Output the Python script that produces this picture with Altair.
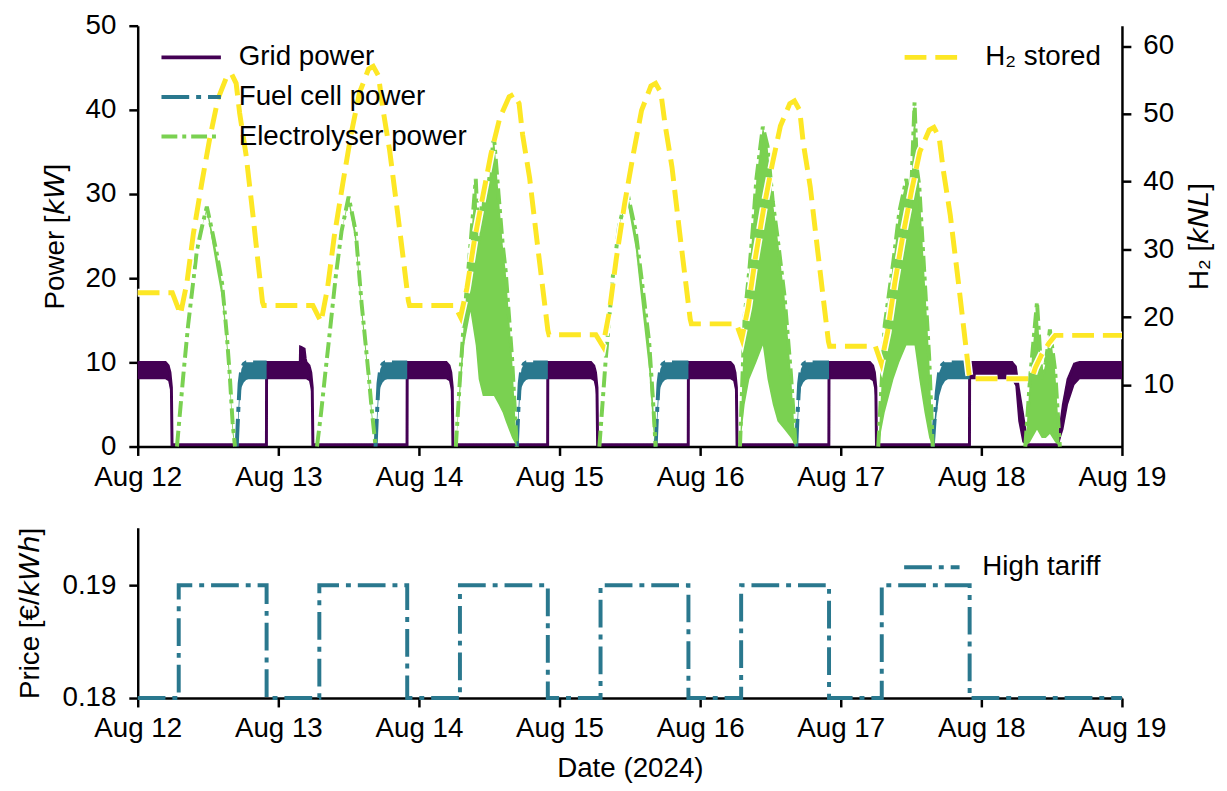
import altair as alt
import pandas as pd

FONT = "Liberation Sans"
FS = 28
BASE = pd.Timestamp("2024-08-12 00:00:00")

# ---------------- data: time in hours after 2024-08-12 00:00 ----------------
# Grid power: band (lo..hi) of the noisy signal
grid_t = [0, 4.7, 5.2, 5.5, 5.75, 5.86, 21.97, 22.0, 27.75, 27.8, 28.4, 28.6, 28.74,
          29.24, 29.54, 29.79, 29.9, 45.97, 46.0, 52.64, 53.14, 53.44, 53.69, 53.8,
          69.97, 70.0, 77.34, 77.84, 78.14, 78.39, 78.5, 93.97, 94.0, 101.14, 101.64,
          101.94, 102.19, 102.3, 117.97, 118.0, 124.94, 125.44, 125.74, 125.99, 126.1,
          141.97, 142.0, 149.2, 149.8, 150.3, 151.0, 151.8, 157.1, 158.0, 158.8, 159.9,
          160.8, 168.0]
grid_hi = [10, 10, 9.6, 8.8, 7.0, 0.2, 0.2, 10, 10, 11.8, 11.6, 10.4, 10,
           9.6, 8.8, 7.0, 0.2, 0.2, 10, 10, 9.6, 8.8, 7.0, 0.2,
           0.2, 10, 10, 9.6, 8.8, 7.0, 0.2, 0.2, 10, 10, 9.6,
           8.8, 7.0, 0.2, 0.2, 10, 10, 9.6, 8.8, 7.0, 0.2,
           0.2, 10, 10, 9.5, 7.0, 4.0, 0.2, 0.2, 5.0, 8.0, 9.8,
           10, 10]
grid_lo = [8, 8, 7.8, 6.8, 5.0, 0.1, 0.1, 8, 8, 8, 8, 8, 8,
           7.8, 6.8, 5.0, 0.1, 0.1, 8, 8, 7.8, 6.8, 5.0, 0.1,
           0.1, 8, 8, 7.8, 6.8, 5.0, 0.1, 0.1, 8, 8, 7.8,
           6.8, 5.0, 0.1, 0.1, 8, 8, 7.8, 6.8, 5.0, 0.1,
           0.1, 8, 8, 7.2, 3.0, 0.5, 0.1, 0.1, 2.0, 5.0, 7.3,
           8, 8]

# Fuel cell power: one segment per weekday evening
fuel_day = ["12"] * 8 + ["13"] * 8 + ["14"] * 8 + ["15"] * 8 + ["16"] * 8 + ["17"] * 8
fuel_t = [16.9, 17.15, 17.4, 17.7, 18.1, 18.5, 18.9, 22.0,
          40.6, 40.85, 41.1, 41.4, 41.8, 42.2, 42.6, 46.0,
          64.7, 64.95, 65.2, 65.5, 65.9, 66.3, 66.7, 70.0,
          88.4, 88.65, 88.9, 89.2, 89.6, 90.0, 90.4, 94.0,
          112.4, 112.65, 112.9, 113.2, 113.6, 114.0, 114.4, 118.0,
          135.7, 136.0, 136.4, 136.8, 137.3, 137.8, 138.3, 142.0]
fuel_hi = [0, 4.0, 7.5, 9.2, 9.8, 10, 10, 10,
           0, 4.0, 7.5, 9.2, 9.8, 10, 10, 10,
           0, 4.0, 7.5, 9.2, 9.8, 10, 10, 10,
           0, 4.0, 7.5, 9.2, 9.8, 10, 10, 10,
           0, 4.0, 7.5, 9.2, 9.8, 10, 10, 10,
           0, 3.0, 6.5, 8.8, 9.7, 10, 10, 10]
fuel_lo = [0, 2.5, 5.5, 7.0, 7.6, 7.9, 8, 8,
           0, 2.5, 5.5, 7.0, 7.6, 7.9, 8, 8,
           0, 2.5, 5.5, 7.0, 7.6, 7.9, 8, 8,
           0, 2.5, 5.5, 7.0, 7.6, 7.9, 8, 8,
           0, 2.5, 5.5, 7.0, 7.6, 7.9, 8, 8,
           0, 1.5, 4.0, 6.0, 7.2, 7.8, 8, 8]

# Electrolyser power: one segment per day (upper / lower envelope)
elec_day = ["12"] * 14 + ["13"] * 12 + ["14"] * 14 + ["15"] * 10 + ["16"] * 12 + ["17"] * 12 + ["18"] * 8
elec_t = [6.7, 7.3, 7.8, 8.6, 10.1, 11.0, 11.8, 12.7, 13.5, 14.4, 15.2, 15.7, 16.2, 16.6,
          30.6, 31.3, 32.0, 32.6, 33.8, 34.8, 36.0, 37.2, 38.2, 39.4, 40.0, 40.6,
          54.3, 55.0, 55.7, 56.8, 57.7, 58.2, 58.9, 59.7, 60.8, 61.6, 62.3, 62.8, 63.9, 64.7,
          78.8, 79.9, 81.1, 82.2, 83.6, 85.0, 86.1, 87.3, 88.0, 88.4,
          102.8, 103.6, 104.4, 105.0, 105.6, 106.7, 107.5, 108.4, 109.2, 110.4, 111.5, 112.3,
          126.4, 127.5, 129.0, 130.0, 131.2, 131.9, 132.6, 133.0, 133.4, 134.3, 135.1, 135.7,
          151.5, 152.3, 153.5, 154.3, 155.0, 155.7, 156.6, 157.4]
elec_hi = [0, 4.7, 8.6, 14.4, 23.3, 26.2, 28.5, 25.6, 22.9, 19.4, 13.3, 8.6, 2.8, 0,
           0, 4.0, 8.6, 12.4, 20.2, 25.6, 29.7, 25.6, 17.1, 8.6, 4.0, 0,
           0, 8.0, 15.1, 24.0, 31.8, 24.0, 30.3, 29.9, 36.9, 29.9, 24.0, 20.9, 10.5, 0,
           0, 10.5, 20.2, 26.4, 30.1, 25.6, 19.4, 12.4, 5.0, 0,
           0, 15.5, 21.0, 26.0, 31.8, 38.0, 35.7, 29.1, 24.9, 17.9, 8.6, 0,
           0, 14.4, 22.1, 27.9, 31.8, 28.0, 40.9, 33.0, 31.0, 20.2, 10.5, 0,
           0, 8.0, 17.2, 8.0, 10.0, 13.9, 9.0, 0]
elec_lo = [0, 4.7, 8.6, 14.4, 23.3, 26.2, 28.0, 24.3, 21.0, 17.6, 11.8, 7.2, 1.5, 0,
           0, 4.0, 8.6, 12.4, 20.2, 25.6, 29.0, 24.2, 15.8, 7.5, 3.0, 0,
           0, 6.0, 12.0, 16.0, 12.0, 8.0, 6.0, 6.0, 6.0, 5.0, 4.0, 3.0, 1.0, 0,
           0, 10.5, 20.2, 26.4, 29.0, 23.5, 16.5, 9.0, 2.0, 0,
           0, 5.0, 8.0, 9.0, 10.0, 12.0, 8.0, 5.0, 3.0, 2.0, 1.0, 0,
           0, 4.0, 8.0, 10.0, 12.0, 12.0, 12.0, 10.0, 8.0, 4.0, 1.0, 0,
           0, 0.5, 2.0, 1.0, 1.0, 1.5, 0.5, 0]

# Hydrogen stored (right axis, kNL)
h2_t = [0, 5.9, 7.3, 8.4, 9.5, 10.9, 12.3, 13.7, 15.2, 16.0, 16.8, 17.4, 18.5, 19.7, 20.5, 21.3, 21.5,
        29.9, 31.3, 32.4, 33.55, 35.0, 36.4, 37.85, 39.4, 40.2, 41.1, 41.8, 43.0, 44.4, 45.3, 46.2, 46.4,
        54.1, 55.1, 56.2, 57.4, 58.9, 60.3, 61.8, 63.4, 64.2, 65.1, 65.7, 66.9, 68.2, 69.1, 70.0, 70.2,
        78.2, 79.4, 80.5, 81.7, 83.1, 84.6, 86.0, 87.6, 88.4, 89.3, 90.0, 91.2, 92.5, 93.4, 94.3, 94.5,
        102.2, 103.1, 104.2, 105.4, 106.8, 108.3, 109.7, 111.3, 112.1, 113.0, 113.6, 114.8, 116.1, 117.0, 117.9, 118.1,
        125.9, 126.9, 128.0, 129.2, 130.6, 132.1, 133.5, 135.1, 135.9, 136.8, 137.5, 138.7, 140.1, 141.0, 141.9, 142.1,
        152.6, 153.2, 154.3, 155.5, 156.6, 168.0]
h2_v = [23.6, 23.6, 20.4, 25.1, 32.3, 39.6, 46.4, 52.2, 55.5, 55.9, 54.5, 50.1, 43.9, 34.8, 28.4, 22.2, 21.7,
        21.7, 19.3, 24.3, 31.9, 39.7, 46.9, 53.1, 56.6, 57.0, 55.6, 51.0, 44.6, 35.1, 28.8, 22.4, 21.7,
        21.7, 20.0, 24.3, 31.0, 37.8, 44.1, 49.4, 52.5, 52.9, 51.5, 46.9, 40.5, 30.9, 24.5, 18.1, 17.4,
        17.4, 15.7, 20.8, 28.7, 36.7, 44.1, 50.5, 54.1, 54.5, 53.1, 48.5, 42.1, 32.5, 26.1, 19.7, 19.0,
        19.0, 16.8, 21.4, 28.6, 35.8, 42.5, 48.2, 51.5, 51.9, 50.5, 45.7, 39.2, 29.5, 22.9, 16.4, 15.7,
        15.7, 13.2, 17.8, 24.9, 32.0, 38.7, 44.4, 47.6, 48.0, 46.5, 41.7, 35.0, 25.0, 18.3, 11.6, 10.9,
        10.9, 12.5, 14.5, 16.1, 17.3, 17.3]

# Electricity price (step changes)
price_t = [0, 7.0, 22.0, 31.0, 46.0, 55.0, 70.0, 79.0, 94.0, 103.0, 118.0, 127.0, 142.0, 168.0]
price_v = [0.18, 0.19, 0.18, 0.19, 0.18, 0.19, 0.18, 0.19, 0.18, 0.19, 0.18, 0.19, 0.18, 0.18]

SERIES = ["Grid power", "Fuel cell power", "Electrolyser power"]
COLORS = ["#440154", "#2a788e", "#7ad151"]
DASHES = [[1, 0], [28, 7, 5, 7], [16, 5, 4, 5]]
H2_NAME = "H\u2082 stored"
PRICE_NAME = "High tariff"


def stamp(hours):
    return [(BASE + pd.Timedelta(hours=h)).strftime("%Y-%m-%dT%H:%M:%S") for h in hours]


grid_df = pd.DataFrame({"time": stamp(grid_t), "lo": grid_lo, "hi": grid_hi, "series": SERIES[0]})
fuel_df = pd.DataFrame({"time": stamp(fuel_t), "lo": fuel_lo, "hi": fuel_hi, "day": fuel_day, "series": SERIES[1]})
elec_df = pd.DataFrame({"time": stamp(elec_t), "lo": elec_lo, "hi": elec_hi, "day": elec_day, "series": SERIES[2]})
h2_df = pd.DataFrame({"time": stamp(h2_t), "v": h2_v, "series": H2_NAME})
price_df = pd.DataFrame({"time": stamp(price_t), "v": price_v, "series": PRICE_NAME})

W, H_TOP, H_BOT = 994, 425, 172
LINE_SYMBOL = "M-3,0L3,0"   # wide stroke symbol; length = 3*sqrt(size)

xscale = alt.Scale(domain=[alt.DateTime(year=2024, month=8, date=12),
                           alt.DateTime(year=2024, month=8, date=19)], nice=False)


def xaxis(title=None):
    kw = dict(format="%b %d", tickCount={"interval": "day", "step": 1}, labelFlush=False,
              labelPadding=8)
    if title:
        return alt.Axis(title=title, titlePadding=12, **kw)
    return alt.Axis(title=None, **kw)


X = alt.X("time:T", scale=xscale, axis=xaxis())
yscale = alt.Scale(domain=[0, 50], nice=False)
yaxis = alt.Axis(title="Power [\U0001D62C\U0001D61E]", values=[0, 10, 20, 30, 40, 50],
                 labelPadding=13, titlePadding=16)


def legend(x, y, size, offset, sw=4, rp=12):
    return alt.Legend(title=None, orient="none", legendX=x, legendY=y, symbolType=LINE_SYMBOL,
                      symbolSize=size, symbolStrokeWidth=sw, labelOffset=offset, rowPadding=rp,
                      padding=0, labelLimit=400)


main_legend = legend(40, 18, 400, 34)
cscale = alt.Scale(domain=SERIES, range=COLORS)
dscale = alt.Scale(domain=SERIES, range=DASHES)


def col():
    return alt.Color("series:N", scale=cscale, legend=main_legend)


def dash():
    return alt.StrokeDash("series:N", scale=dscale, legend=main_legend)


grid_area = alt.Chart(grid_df).mark_area(color=COLORS[0], opacity=1).encode(
    x=X, y=alt.Y("hi:Q", scale=yscale, axis=yaxis), y2="lo:Q")
grid_line = alt.Chart(grid_df).mark_line(strokeWidth=3).encode(
    x=X, y=alt.Y("hi:Q", scale=yscale), color=col(), strokeDash=dash())
fuel_area = alt.Chart(fuel_df).mark_area(color=COLORS[1], opacity=1).encode(
    x=X, y=alt.Y("hi:Q", scale=yscale), y2="lo:Q", detail="day:N")
fuel_line = alt.Chart(fuel_df).mark_line(strokeWidth=4).encode(
    x=X, y=alt.Y("hi:Q", scale=yscale), color=col(), strokeDash=dash(), detail="day:N")
elec_area = alt.Chart(elec_df).mark_area(color=COLORS[2], opacity=1).encode(
    x=X, y=alt.Y("hi:Q", scale=yscale), y2="lo:Q", detail="day:N")
elec_line = alt.Chart(elec_df).mark_line(strokeWidth=4).encode(
    x=X, y=alt.Y("hi:Q", scale=yscale), color=col(), strokeDash=dash(), detail="day:N")

power = alt.layer(grid_area, grid_line, fuel_area, fuel_line, elec_area, elec_line)

h2scale = alt.Scale(domain=[0.9, 63.0], nice=False)
h2_legend = legend(788, 18, 336, 40, sw=5)
h2_halo = alt.Chart(h2_df).mark_line(color="white", strokeWidth=8, strokeDash=[22, 9]).encode(
    x=X, y=alt.Y("v:Q", scale=h2scale,
                 axis=alt.Axis(orient="right", title="H\u2082 [\U0001D62C\U0001D615\U0001D613]",
                               values=[10, 20, 30, 40, 50, 60], labelPadding=12, titlePadding=12,
                               titleAngle=270, titleBaseline="top")))
h2_line = alt.Chart(h2_df).mark_line(strokeWidth=5).encode(
    x=X, y=alt.Y("v:Q", scale=h2scale),
    color=alt.Color("series:N", scale=alt.Scale(domain=[H2_NAME], range=["#fde725"]), legend=h2_legend),
    strokeDash=alt.StrokeDash("series:N", scale=alt.Scale(domain=[H2_NAME], range=[[22, 9]]),
                              legend=h2_legend))
h2 = alt.layer(h2_halo, h2_line)

top = alt.layer(power, h2).resolve_scale(y="independent", color="independent",
                                         strokeDash="independent").properties(width=W, height=H_TOP)

price_legend = legend(788, 26, 348, 37)
bottom = alt.Chart(price_df).mark_line(strokeWidth=4, interpolate="step-after").encode(
    x=alt.X("time:T", scale=xscale, axis=xaxis("Date (2024)")),
    y=alt.Y("v:Q", scale=alt.Scale(domain=[0.18, 0.1951], nice=False, zero=False),
            axis=alt.Axis(title="Price [\u20ac/\U0001D62C\U0001D61E\U0001D629]", values=[0.18, 0.19],
                          format=".2f", labelPadding=13, titlePadding=18)),
    color=alt.Color("series:N", scale=alt.Scale(domain=[PRICE_NAME], range=["#2a788e"]), legend=price_legend),
    strokeDash=alt.StrokeDash("series:N", scale=alt.Scale(domain=[PRICE_NAME], range=[[28, 7, 5, 7]]),
                              legend=price_legend),
).properties(width=W, height=H_BOT)

chart = alt.vconcat(top, bottom, spacing=82, bounds="flush").resolve_scale(
    color="independent", strokeDash="independent", y="independent"
).properties(
    padding={"left": 8, "top": 0, "right": 5, "bottom": 5}
).configure_view(stroke=None).configure_axis(
    labelFont=FONT, titleFont=FONT, labelFontSize=FS, titleFontSize=FS, labelColor="black",
    titleColor="black", titleFontWeight="normal", domainColor="black", tickColor="black",
    domainWidth=2.5, tickWidth=2.5, tickSize=9, grid=False
).configure_legend(labelFont=FONT, labelFontSize=FS, labelColor="black")

chart.save("out.html", embed_options={"renderer": "svg", "actions": False})
